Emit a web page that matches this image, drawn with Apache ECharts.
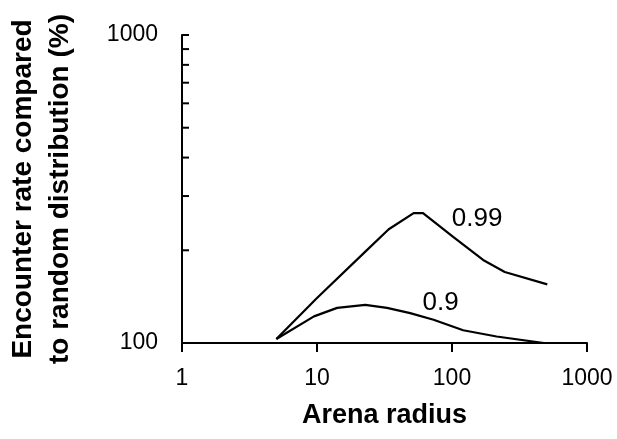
<!DOCTYPE html>
<html lang="en">
<head>
    <meta charset="UTF-8">
    <title>Encounter rate</title>
    <script src="https://cdn.jsdelivr.net/npm/echarts@6/dist/echarts.min.js"></script>
</head>
<body style="margin:0;background:#fff;">
    <div id="box" style="width: 617px; height: 439px;"></div>
</body>
<script>
    // arena radius (x) and encounter rate in % (y)
    var radius99 = [5, 10, 22.8, 34, 52, 61, 102, 170, 246, 508]
    var rate99   = [103, 140, 198, 234, 264, 264, 221, 186, 170, 155]
    var radius90 = [5, 9.5, 14.1, 22.8, 33, 49, 73, 121, 214, 480]
    var rate90   = [103, 122, 130, 133, 130, 125, 119, 110, 105, 100]
    var xTicks = [1, 10, 100, 1000]
    var yTicks = [100, 1000]
    var yMinor = [200, 300, 400, 500, 600, 700, 800, 900]

    var font = '"Liberation Sans", Arial, Helvetica, sans-serif'

    function pairs(xs, ys) {
        var out = []
        for (var i = 0; i < xs.length; i++) out.push([xs[i], ys[i]])
        return out
    }

    var mEcharts = echarts.init(document.querySelector('#box'))
    // curve with its name written next to one of its points
    var lineSeries = function (name, xs, ys, at, off) {
        return {
            name: name, type: 'line', data: pairs(xs, ys),
            showSymbol: false, symbol: 'none',
            lineStyle: { color: '#000', width: 2.2 },
            markPoint: {
                symbol: 'circle', symbolSize: 0, silent: true,
                data: [{ coord: [xs[at], ys[at]] }],
                label: {
                    show: true, formatter: name, position: 'top', distance: 5, offset: off,
                    color: '#000', fontFamily: font, fontSize: 26
                }
            }
        }
    }
    var option = {
        animation: false,
        backgroundColor: '#fff',
        grid: { left: 182, right: 30, top: 35, bottom: 96, outerBoundsMode: 'none', containLabel: false },
        xAxis: {
            type: 'log', logBase: 10, min: xTicks[0], max: xTicks[xTicks.length - 1],
            name: 'Arena radius', nameLocation: 'middle', nameGap: 59,
            nameTextStyle: { color: '#000', fontFamily: font, fontWeight: 'bold', fontSize: 27 },
            axisLine: { lineStyle: { color: '#000', width: 2 } },
            axisTick: { show: true, inside: false, length: 9, lineStyle: { color: '#000', width: 2 } },
            axisLabel: {
                color: '#000', fontFamily: font, fontSize: 23, margin: 24,
                formatter: function (v) { return String(Math.round(v)) }
            },
            splitLine: { show: false },
            minorTick: { show: false }
        },
        yAxis: {
            type: 'log', logBase: 10, min: yTicks[0], max: yTicks[1],
            name: 'Encounter rate compared\nto random distribution (%)',
            nameLocation: 'middle', nameGap: 103, nameRotate: 90,
            nameTextStyle: { color: '#000', fontFamily: font, fontWeight: 'bold', fontSize: 28, lineHeight: 37, align: 'center' },
            axisLine: { lineStyle: { color: '#000', width: 2 } },
            axisTick: { show: true, inside: true, length: 7, lineStyle: { color: '#000', width: 2 } },
            axisLabel: {
                color: '#000', fontFamily: font, fontSize: 23, margin: 24,
                formatter: function (v) { return String(Math.round(v)) }
            },
            splitLine: { show: false }
        },
        series: [
            lineSeries('0.99', radius99, rate99, 6, [24, 0]),
            lineSeries('0.9', radius90, rate90, 6, [7, 1])
        ]
    }
    mEcharts.setOption(option)

    // log minor ticks on the y axis, placed through the chart's own scale
    var marks = []
    yMinor.forEach(function (v) {
        var p = mEcharts.convertToPixel({ gridIndex: 0 }, [1, v])
        marks.push({
            type: 'line', silent: true,
            shape: { x1: p[0], y1: p[1], x2: p[0] + 7, y2: p[1] },
            style: { stroke: '#000', lineWidth: 2 }
        })
    })
    mEcharts.setOption({ graphic: marks })
</script>
</html>
